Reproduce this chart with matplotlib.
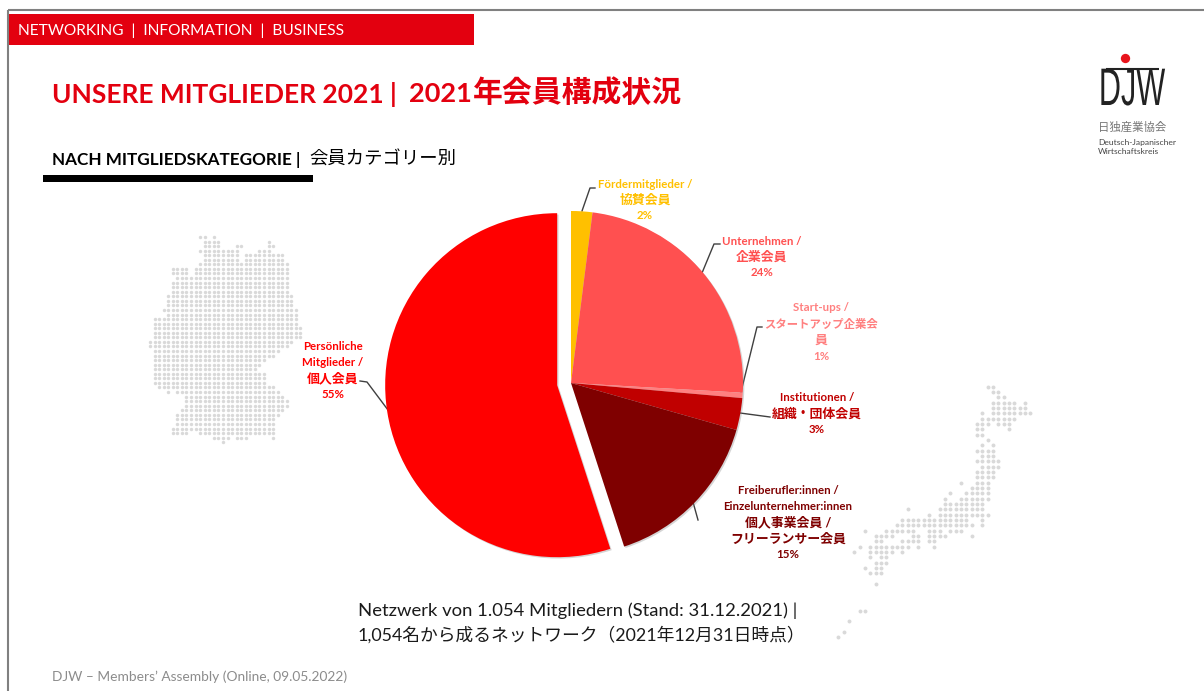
import matplotlib
matplotlib.use("Agg")
import matplotlib.pyplot as plt
import matplotlib.patheffects as pe
from matplotlib.patches import Rectangle
from matplotlib.transforms import Affine2D

W, H = 1204, 691
LATIN = ['Lato', 'Noto Sans CJK JP', 'DejaVu Sans']
plt.rcParams['font.family'] = LATIN

# anteile, im uhrzeigersinn ab 12 uhr
werte = [2.0, 23.9, 0.5, 3.0, 15.6, 55.0]
farben = ['#FFC000', '#FF5050', '#FF8080', '#C00000', '#7F0000', '#FF0000']
explode = [0, 0, 0, 0, 0, 14]

label_zeilen = [
    ["Fördermitglieder /", "協賛会員", "2%"],
    ["Unternehmen /", "企業会員", "24%"],
    ["Start-ups /", "スタートアップ企業会", "員", "1%"],
    ["Institutionen /", "組織・団体会員", "3%"],
    ["Freiberufler:innen /", "Einzelunternehmer:innen", "個人事業会員 /", "フリーランサー会員", "15%"],
    ["Persönliche", "Mitglieder /", "個人会員", "55%"],
]
label_x = [645, 762, 821, 817, 788, 333]
label_y = [
    [184, 200, 215],
    [241, 257, 272],
    [307, 324, 340, 356],
    [397, 414, 429],
    [491, 507, 522, 539, 555],
    [346, 362, 378, 394],
]
linien = [
    [(582, 211), (590, 188), (595, 188)],
    [(702, 273), (714, 244), (720, 244)],
    [(741, 392), (757, 327), (762, 327)],
    [(740, 413), (755, 415), (770, 417)],
    [(693, 502), (698, 520)],
    [(360, 381), (367, 382), (388, 410)],
]

# punktkarten: zeile -> spalten-bereiche
deutschland = {
    0: [(11, 12), (14, 14)], 1: [(12, 15), (26, 26)], 2: [(12, 15), (19, 20), (26, 27)],
    3: [(11, 19), (24, 26)], 4: [(12, 19), (21, 29)], 5: [(12, 19), (21, 29)],
    6: [(11, 30)], 7: [(5, 8), (10, 30)], 8: [(5, 8), (10, 30)], 9: [(6, 30)],
    10: [(5, 30)], 11: [(5, 30)], 12: [(5, 30)], 13: [(4, 31)], 14: [(4, 31)],
    15: [(4, 31)], 16: [(3, 32)], 17: [(4, 32)], 18: [(1, 32)], 19: [(1, 32)],
    20: [(1, 33)], 21: [(1, 33)], 22: [(1, 33)], 23: [(0, 31)], 24: [(0, 30)],
    25: [(1, 28)], 26: [(1, 27)], 27: [(1, 25)], 28: [(1, 24)], 29: [(1, 23)],
    30: [(1, 25)], 31: [(1, 25)], 32: [(1, 25)], 33: [(2, 27)], 34: [(4, 4), (6, 28)],
    35: [(8, 29)], 36: [(8, 30)], 37: [(8, 30)], 38: [(7, 29)], 39: [(6, 28)],
    40: [(6, 27)], 41: [(6, 27)], 42: [(5, 27)], 43: [(5, 8), (11, 24), (25, 27)],
    44: [(14, 17), (19, 21), (27, 27)], 45: [(16, 16)],
}
japan = {
    0: [(28, 29)], 1: [(29, 30)], 2: [(30, 31)], 3: [(29, 33), (35, 35)],
    4: [(29, 35)], 5: [(27, 27), (29, 36)], 6: [(27, 33)], 7: [(26, 28), (30, 32)],
    8: [(26, 27), (32, 32)], 9: [(26, 27)], 10: [(28, 28)], 11: [(27, 27), (29, 29)],
    12: [(26, 29)], 13: [(27, 29)], 14: [(26, 30)], 15: [(27, 30)], 16: [(26, 29)],
    17: [(26, 29)], 18: [(23, 23), (26, 28)], 19: [(25, 28)], 20: [(21, 21), (24, 28)],
    21: [(20, 20), (23, 28)], 22: [(20, 27)], 23: [(13, 13), (19, 27)],
    24: [(17, 17), (19, 28)], 25: [(12, 24), (27, 27)], 26: [(11, 25), (27, 27)],
    27: [(5, 5), (9, 14), (17, 19), (21, 23)], 28: [(7, 10), (14, 15), (17, 20), (25, 25)],
    29: [(7, 8), (12, 15), (17, 18)], 30: [(4, 4), (6, 10), (11, 13), (15, 15), (18, 18)],
    31: [(3, 3), (6, 10), (12, 12)], 32: [(6, 6), (8, 9)], 33: [(7, 9)],
    34: [(5, 5), (7, 8)], 35: [(6, 8)], 37: [(7, 7)], 42: [(4, 5)],
    44: [(2, 2)], 46: [(1, 1)], 47: [(0, 0)],
}


def py(y):
    return H - y


def punkte(karte, x0, y0, schritt, groesse):
    xs, ys = [], []
    for zeile, bereiche in karte.items():
        for a, b in bereiche:
            for spalte in range(a, b + 1):
                xs.append(x0 + spalte * schritt)
                ys.append(py(y0 + zeile * schritt))
    ax.scatter(xs, ys, s=groesse, color='#D9D9D9', linewidths=0, zorder=1)


# schmale logo-schrift: text bleibt text, wird nur horizontal gestaucht
class Schmal(pe.AbstractPathEffect):
    def __init__(self, mitte, faktor):
        super().__init__()
        self.mitte = mitte
        self.faktor = faktor

    def draw_path(self, renderer, gc, tpath, affine, rgbFace=None):
        stauchung = Affine2D().translate(-self.mitte, 0).scale(self.faktor, 1).translate(self.mitte, 0)
        renderer.draw_path(gc, tpath, affine + stauchung, rgbFace)


fig = plt.figure(figsize=(W / 100, H / 100), dpi=100)
ax = fig.add_axes([0, 0, 1, 1])

punkte(deutschland, 150, 237, 4.56, 6)
punkte(japan, 838.3, 386.7, 5.33, 8)

wedges, _ = ax.pie(werte, colors=farben, explode=explode, center=(571, py(383)), radius=172,
                   startangle=90, counterclock=False, wedgeprops={'linewidth': 0, 'zorder': 3})
for w in wedges:
    w.set_path_effects([pe.SimplePatchShadow(offset=(1, -1), shadow_rgbFace='#888888', alpha=0.35), pe.Normal()])

ax.set_xlim(0, W)
ax.set_ylim(0, H)
ax.set_aspect('auto')
ax.axis('off')

# leader lines
for linie in linien:
    ax.plot([p[0] for p in linie], [py(p[1]) for p in linie], color='#404040', lw=1.0, zorder=2)

# labels
for zeilen, x, ys, farbe in zip(label_zeilen, label_x, label_y, farben):
    for text, y in zip(zeilen, ys):
        cjk = any(ord(c) > 0x2000 for c in text)
        groesse = 9.3 if cjk else 8.3
        if text.startswith("スタート"):
            groesse = 8.2
        ax.text(x, py(y), text, color=farbe, fontweight='bold', fontsize=groesse,
                ha='center', va='center', zorder=5)

# rahmen und kopf
ax.plot([8, 8], [0, py(10)], color='#808080', lw=1.5, solid_capstyle='butt')
ax.plot([8, W], [py(10), py(10)], color='#808080', lw=1.5, solid_capstyle='butt')
ax.add_patch(Rectangle((9, py(45)), 465, 31, color='#E3000F', lw=0))
ax.text(18, py(31), "NETWORKING  |  INFORMATION  |  BUSINESS", color='white', fontsize=11.2, va='center')

ax.text(52, py(94), "UNSERE MITGLIEDER 2021 | ", color='#E3000F', fontsize=19, fontweight='bold', va='center')
ax.text(409, py(94), "2021", color='#E3000F', fontsize=19.5, fontweight='bold', va='center')
ax.text(473, py(93), "年会員構成状況", color='#E3000F', fontsize=21.5, fontweight='bold', va='center')
ax.text(52, py(160), "NACH MITGLIEDSKATEGORIE | ", color='black', fontsize=12.3, fontweight='bold', va='center')
ax.text(309, py(159), "会員カテゴリー別", color='black', fontsize=13.2, va='center')
ax.add_patch(Rectangle((43, py(182)), 270, 7, color='black', lw=0))

# unten
ax.text(358, py(611), "Netzwerk von 1.054 Mitgliedern (Stand: 31.12.2021) |", color='#1A1A1A', fontsize=13.3, va='center')
ax.text(358, py(635), "1,054名から成るネットワーク（2021年12月31日時点）", color='#1A1A1A', fontsize=12.8, va='center')
ax.text(52, py(677), "DJW – Members’ Assembly (Online, 09.05.2022)", color='#8C8C8C', fontsize=9.9, va='center')

# logo
ax.scatter([1125], [py(58)], s=45, color='#E8141C', linewidths=0)
ax.plot([1106, 1159], [py(68.5), py(68.5)], color='#222222', lw=1.5, solid_capstyle='butt')
ax.text(1132, py(91), "DJW", color='#222222', fontsize=38, ha='center', va='center',
        family=['Liberation Sans'], path_effects=[Schmal(1132, 0.58)])
ax.text(1098, py(127), "日独産業協会", color='#777777', fontsize=8.2, va='center')
ax.text(1098, py(142), "Deutsch-Japanischer", color='#444444', fontsize=6.1, va='center')
ax.text(1098, py(151), "Wirtschaftskreis", color='#444444', fontsize=6.1, va='center')

fig.savefig("out.png", dpi=100)
